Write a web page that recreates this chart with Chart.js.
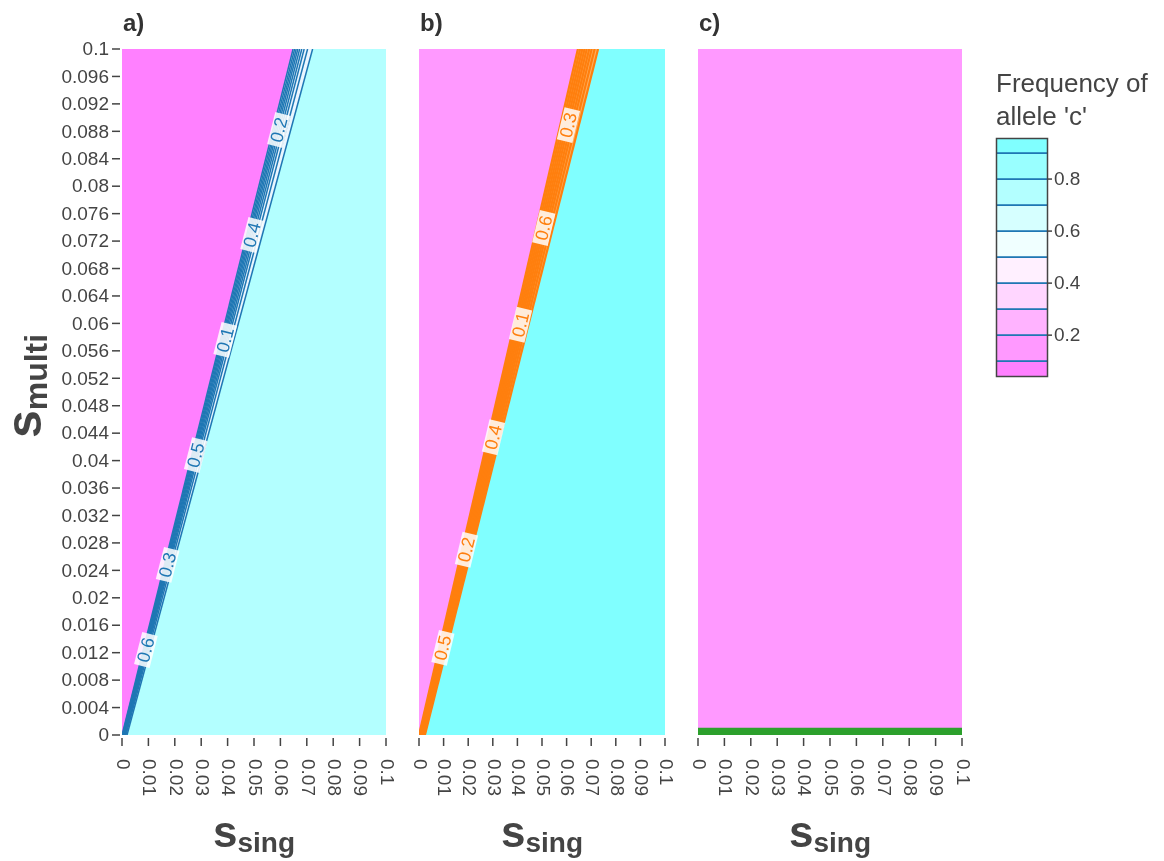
<!DOCTYPE html>
<html>
<head>
<meta charset="utf-8">
<script src="https://cdn.jsdelivr.net/npm/chart.js@4.4.1/dist/chart.umd.min.js"></script>
<style>
body { margin: 0; background: #fff; width: 1164px; height: 861px; overflow: hidden; position: relative; }
canvas { position: absolute; left: 0; top: 0; }
</style>
</head>
<body>
<canvas id="panelA" width="1164" height="861"></canvas>
<canvas id="panelB" width="1164" height="861"></canvas>
<canvas id="panelC" width="1164" height="861"></canvas>
<canvas id="colorBar" width="1164" height="861"></canvas>
<script>
// contour levels of the frequency of allele 'c'
const levels = [0.1, 0.2, 0.3, 0.4, 0.5, 0.6, 0.7, 0.8, 0.9];

// axis ticks
const xTicks = [0, 0.01, 0.02, 0.03, 0.04, 0.05, 0.06, 0.07, 0.08, 0.09, 0.1];
const xTickLabels = ['0', '0.01', '0.02', '0.03', '0.04', '0.05', '0.06', '0.07', '0.08', '0.09', '0.1'];
const yTicks = [0, 0.004, 0.008, 0.012, 0.016, 0.02, 0.024, 0.028, 0.032, 0.036, 0.04, 0.044, 0.048,
	0.052, 0.056, 0.06, 0.064, 0.068, 0.072, 0.076, 0.08, 0.084, 0.088, 0.092, 0.096, 0.1];
const yTickLabels = ['0', '0.004', '0.008', '0.012', '0.016', '0.02', '0.024', '0.028', '0.032', '0.036', '0.04',
	'0.044', '0.048', '0.052', '0.056', '0.06', '0.064', '0.068', '0.072', '0.076', '0.08', '0.084', '0.088',
	'0.092', '0.096', '0.1'];

// panel a: s_sing where each level crosses s_multi = 0 and s_multi = 0.1
const aBottom = [0.0000, 0.0002, 0.0004, 0.0006, 0.0008, 0.0010, 0.0012, 0.0015, 0.0019];
const aTop = [0.0648, 0.0654, 0.0660, 0.0666, 0.0673, 0.0681, 0.0690, 0.0703, 0.0722];
const aLabelText = ['0.6', '0.3', '0.5', '0.1', '0.4', '0.2'];
const aLabelY = [0.0124, 0.0248, 0.0408, 0.0576, 0.0729, 0.0882];

// panel b
const bBottom = [0.0000, 0.0003, 0.0006, 0.0009, 0.0012, 0.0015, 0.0018, 0.0021, 0.0024];
const bTop = [0.0646, 0.0655, 0.0664, 0.0673, 0.0682, 0.0692, 0.0702, 0.0714, 0.0728];
const bLabelText = ['0.5', '0.2', '0.4', '0.1', '0.6', '0.3'];
const bLabelY = [0.0127, 0.0270, 0.0434, 0.0598, 0.0739, 0.0889];

// panel c: every level sits just above s_multi = 0
const cLevelY = [0.0001, 0.0002, 0.0003, 0.0004, 0.0005, 0.0006, 0.0007, 0.0008, 0.0009];

// colour bar
const barEdges = [0.043, 0.1, 0.2, 0.3, 0.4, 0.5, 0.6, 0.7, 0.8, 0.9, 0.954];
const barColors = ['#FF80FF', '#FF99FF', '#FFB3FF', '#FFD6FF', '#FFF0FF', '#F0FFFF', '#D6FFFF', '#B3FFFF', '#99FFFF', '#80FFFF'];
const barTicks = [0.2, 0.4, 0.6, 0.8];
const barTickLabels = ['0.2', '0.4', '0.6', '0.8'];

const FONT = '"Liberation Sans", Arial, sans-serif';
const TEXT = '#444';

function fillRegion(bottomX, topX, color, order) {
	return {
		data: [{x: bottomX, y: 0}, {x: topX, y: 0.1}, {x: 0.1, y: 0.1}],
		fill: 'start', backgroundColor: color, borderWidth: 0, pointRadius: 0, order: order,
	};
}

function contourLines(bottoms, tops, color, width) {
	return levels.map((lv, i) => ({
		label: String(lv),
		data: [{x: bottoms[i], y: 0}, {x: tops[i], y: 0.1}],
		borderColor: color, borderWidth: width, pointRadius: 0, fill: false, order: 1,
	}));
}

function drawXAxis(chart, letter) {
	const ctx = chart.ctx, xs = chart.scales.x, area = chart.chartArea;
	ctx.save();
	ctx.strokeStyle = TEXT;
	ctx.fillStyle = TEXT;
	ctx.lineWidth = 1.5;
	ctx.font = '19px ' + FONT;
	xTicks.forEach((v, i) => {
		const px = xs.getPixelForValue(v);
		ctx.beginPath();
		ctx.moveTo(px, area.bottom + 3);
		ctx.lineTo(px, area.bottom + 11);
		ctx.stroke();
		ctx.save();
		ctx.translate(px, area.bottom + 24);
		ctx.rotate(Math.PI / 2);
		ctx.textAlign = 'left';
		ctx.textBaseline = 'middle';
		ctx.fillText(xTickLabels[i], 0, 0);
		ctx.restore();
	});
	// s_sing title
	ctx.textBaseline = 'alphabetic';
	ctx.textAlign = 'left';
	ctx.font = 'bold 44px ' + FONT;
	const ws = ctx.measureText('s').width;
	ctx.font = 'bold 28px ' + FONT;
	const wsub = ctx.measureText('sing').width;
	const cx = (area.left + area.right) / 2 - (ws + wsub) / 2;
	ctx.font = 'bold 44px ' + FONT;
	ctx.fillText('s', cx, 847);
	ctx.font = 'bold 28px ' + FONT;
	ctx.fillText('sing', cx + ws, 852);
	// panel letter
	ctx.font = 'bold 24px ' + FONT;
	ctx.fillStyle = '#333';
	ctx.fillText(letter, area.left + 1, 31);
	ctx.restore();
}

function drawYAxis(chart) {
	const ctx = chart.ctx, ys = chart.scales.y, area = chart.chartArea;
	ctx.save();
	ctx.strokeStyle = TEXT;
	ctx.fillStyle = TEXT;
	ctx.lineWidth = 1.5;
	ctx.font = '19px ' + FONT;
	ctx.textAlign = 'right';
	ctx.textBaseline = 'middle';
	yTicks.forEach((v, i) => {
		const py = ys.getPixelForValue(v);
		ctx.beginPath();
		ctx.moveTo(area.left - 10, py);
		ctx.lineTo(area.left - 2, py);
		ctx.stroke();
		ctx.fillText(yTickLabels[i], area.left - 13, py + 1);
	});
	// s_multi title, rotated
	ctx.textAlign = 'left';
	ctx.textBaseline = 'alphabetic';
	ctx.font = 'bold 50px ' + FONT;
	const ws = ctx.measureText('s').width;
	ctx.font = 'bold 32px ' + FONT;
	const wsub = ctx.measureText('multi').width;
	ctx.translate(41, 386);
	ctx.rotate(-Math.PI / 2);
	const sx = -(ws + wsub) / 2;
	ctx.font = 'bold 50px ' + FONT;
	ctx.fillText('s', sx, 0);
	ctx.font = 'bold 32px ' + FONT;
	ctx.fillText('multi', sx + ws, 6);
	ctx.restore();
}

function drawContourLabels(chart, bottoms, tops, texts, yvals, color) {
	const ctx = chart.ctx, xs = chart.scales.x, ys = chart.scales.y;
	const mid = 4;
	const ang = Math.atan2(ys.getPixelForValue(0.1) - ys.getPixelForValue(0),
		xs.getPixelForValue(tops[mid]) - xs.getPixelForValue(bottoms[mid]));
	ctx.save();
	ctx.font = '18px ' + FONT;
	ctx.textAlign = 'center';
	ctx.textBaseline = 'middle';
	texts.forEach((t, i) => {
		const v = yvals[i];
		const xv = bottoms[mid] + (tops[mid] - bottoms[mid]) * v / 0.1;
		ctx.save();
		ctx.translate(xs.getPixelForValue(xv), ys.getPixelForValue(v));
		ctx.rotate(ang);
		const w = ctx.measureText(t).width + 8;
		ctx.fillStyle = 'rgba(255,255,255,0.85)';
		ctx.fillRect(-w / 2, -8, w, 16);
		ctx.fillStyle = color;
		ctx.fillText(t, 0, 1);
		ctx.restore();
	});
	ctx.restore();
}

function panelOptions(area) {
	return {
		responsive: false,
		animation: false,
		devicePixelRatio: 1,
		layout: {padding: {left: area[0], right: 1164 - area[1], top: 49, bottom: 861 - 735}},
		plugins: {legend: {display: false}, tooltip: {enabled: false}},
		scales: {
			x: {type: 'linear', min: 0, max: 0.1, display: false},
			y: {type: 'linear', min: 0, max: 0.1, display: false},
		},
	};
}

// panel a
new Chart(document.getElementById('panelA'), {
	type: 'line',
	data: {
		datasets: [
			...contourLines(aBottom, aTop, '#1F77B4', 1.5),
			fillRegion(0, 0, '#FF80FF', 30),
			fillRegion(aBottom[0], aTop[0], '#EAF6FF', 20),
			fillRegion(aBottom[8], aTop[8], '#B3FFFF', 10),
		],
	},
	options: panelOptions([122, 386]),
	plugins: [{
		id: 'panelA',
		afterDatasetsDraw: (chart) => {
			drawContourLabels(chart, aBottom, aTop, aLabelText, aLabelY, '#1F77B4');
			drawXAxis(chart, 'a)');
			drawYAxis(chart);
		},
	}],
});

// panel b
new Chart(document.getElementById('panelB'), {
	type: 'line',
	data: {
		datasets: [
			...contourLines(bBottom, bTop, '#FF7F0E', 2.2),
			fillRegion(0, 0, '#FF99FF', 30),
			fillRegion(bBottom[0], bTop[0], '#FFB060', 20),
			fillRegion(bBottom[8], bTop[8], '#80FFFF', 10),
		],
	},
	options: panelOptions([419, 665]),
	plugins: [{
		id: 'panelB',
		afterDatasetsDraw: (chart) => {
			drawContourLabels(chart, bBottom, bTop, bLabelText, bLabelY, '#FF7F0E');
			drawXAxis(chart, 'b)');
		},
	}],
});

// panel c
new Chart(document.getElementById('panelC'), {
	type: 'line',
	data: {
		datasets: [
			...cLevelY.map((y, i) => ({
				label: String(levels[i]),
				data: [{x: 0, y: y}, {x: 0.1, y: y}],
				borderColor: '#2CA02C', borderWidth: 2, pointRadius: 0, fill: false, order: 1,
			})),
			fillRegion(0, 0, '#FF99FF', 30),
		],
	},
	options: panelOptions([698, 962]),
	plugins: [{
		id: 'panelC',
		afterDatasetsDraw: (chart) => drawXAxis(chart, 'c)'),
	}],
});

// colour bar
new Chart(document.getElementById('colorBar'), {
	type: 'bar',
	data: {
		labels: ['c'],
		datasets: barColors.map((col, i) => ({
			data: [[barEdges[i], barEdges[i + 1]]],
			backgroundColor: col,
			borderColor: '#1F77B4',
			borderSkipped: false,
			borderWidth: {top: i < barColors.length - 1 ? 1.2 : 0, bottom: i > 0 ? 1.2 : 0, left: 0, right: 0},
			barPercentage: 1,
			categoryPercentage: 1,
			grouped: false,
		})),
	},
	options: {
		responsive: false,
		animation: false,
		devicePixelRatio: 1,
		layout: {padding: {left: 997, right: 1164 - 1047, top: 139, bottom: 861 - 376}},
		plugins: {legend: {display: false}, tooltip: {enabled: false}},
		scales: {
			x: {display: false},
			y: {min: barEdges[0], max: barEdges[barEdges.length - 1], display: false},
		},
	},
	plugins: [{
		id: 'barFrame',
		afterDatasetsDraw: (chart) => {
			const ctx = chart.ctx, ys = chart.scales.y, area = chart.chartArea;
			ctx.save();
			ctx.strokeStyle = TEXT;
			ctx.lineWidth = 1.5;
			ctx.strokeRect(area.left - 0.5, area.top - 0.5, area.right - area.left + 1, area.bottom - area.top + 1);
			ctx.fillStyle = TEXT;
			ctx.font = '19px ' + FONT;
			ctx.textAlign = 'left';
			ctx.textBaseline = 'middle';
			barTicks.forEach((v, i) => {
				const py = ys.getPixelForValue(v);
				ctx.beginPath();
				ctx.moveTo(area.right, py);
				ctx.lineTo(area.right + 5, py);
				ctx.stroke();
				ctx.fillText(barTickLabels[i], area.right + 7, py + 1);
			});
			ctx.font = '26px ' + FONT;
			ctx.textBaseline = 'alphabetic';
			ctx.fillText('Frequency of', 996, 92);
			ctx.fillText("allele 'c'", 996, 125);
			ctx.restore();
		},
	}],
});
</script>
</body>
</html>
